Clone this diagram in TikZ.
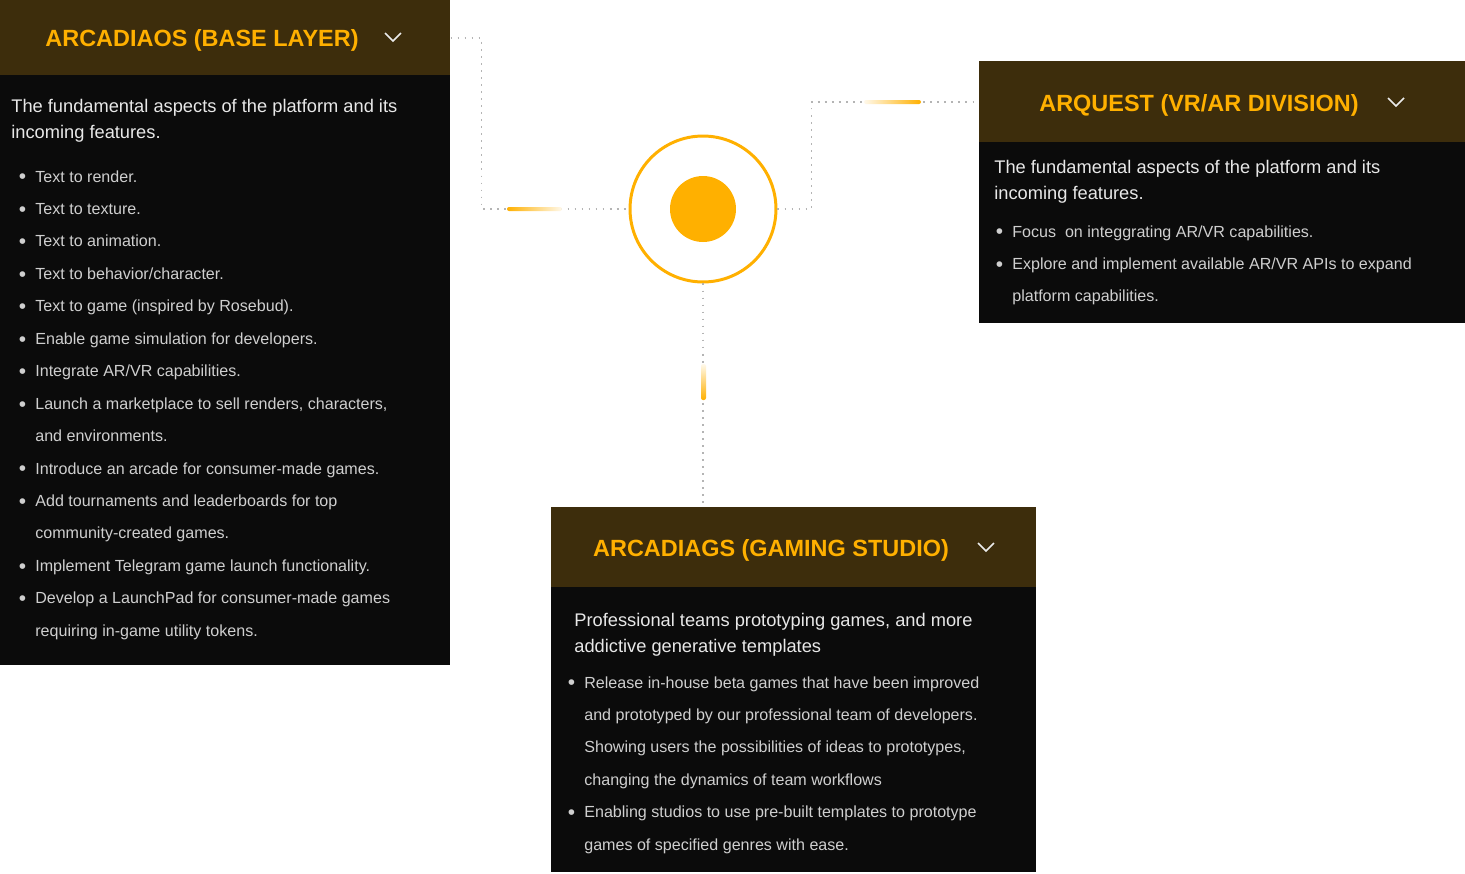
\documentclass[tikz,border=0pt]{standalone}
\usepackage{fontspec}
\setmainfont{Liberation Sans}
\usetikzlibrary{positioning}
\definecolor{hdrbrown}{HTML}{3D2D0C}
\definecolor{bodyblack}{HTML}{0B0B0B}
\definecolor{amber}{HTML}{FFB000}
\definecolor{dotgray}{HTML}{B4B4B4}
\definecolor{introtxt}{HTML}{E8E8E8}
\definecolor{itemtxt}{HTML}{CFCFCF}
\newcommand{\bul}{\llap{\raisebox{-1.1pt}{\scalebox{1.3}{\textbullet}}\hspace{5.2pt}}}

\begin{document}
\begin{tikzpicture}[x=0.02cm,y=-0.02cm,
  hdr/.style={fill=hdrbrown,inner sep=0pt,anchor=north west},
  panel/.style={fill=bodyblack,inner sep=0pt,anchor=north west},
  title/.style={text=amber,anchor=base,inner sep=0pt,font=\fontsize{13.35}{16}\selectfont\bfseries},
  intro/.style={text=introtxt,anchor=base west,inner sep=0pt,font=\fontsize{10.4}{13}\selectfont},
  item/.style={text=itemtxt,anchor=base west,inner sep=0pt,font=\fontsize{9.15}{11}\selectfont},
  chev/.style={draw=white!92!black,line width=.85pt},
  link/.style={draw=dotgray,line width=1pt,dash pattern=on 1pt off 3pt}]
\useasboundingbox[fill=white] (0,0) rectangle (1465,873);

% panels
\node[hdr,minimum width=9cm,minimum height=1.5cm] (oshead) at (0,0) {};
\node[panel,minimum width=9cm,minimum height=11.8cm] (osbody) at (0,75) {};
\node[hdr,minimum width=9.72cm,minimum height=1.62cm] (qhead) at (979,61) {};
\node[panel,minimum width=9.72cm,minimum height=3.62cm] (qbody) at (979,142) {};
\node[hdr,minimum width=9.7cm,minimum height=1.6cm] (gshead) at (551,507) {};
\node[panel,minimum width=9.7cm,minimum height=5.7cm] (gsbody) at (551,587) {};

% hub
\node[circle,draw=amber,line width=1.7pt,minimum size=2.92cm] (hub) at (703,209) {};
\node[circle,fill=amber,minimum size=1.32cm] (core) at (hub) {};

% connectors
\draw[link] (oshead.east) -- ++(31,0) |- (hub.west);
\draw[link] (hub.east) -- ++(34,0) |- (qhead.west);
\draw[link] (hub.south) -- (hub.south |- gshead.north);
\shade[left color=amber,right color=amber!8,rounded corners=.04cm] (507,207) rectangle (562,211);
\shade[left color=amber!8,right color=amber,rounded corners=.04cm] (864,100) rectangle (921,104);
\shade[top color=amber!8,bottom color=amber,rounded corners=.04cm] (701,364) rectangle (706,400);

% titles
\node[title] (ostitle) at (202,46) {ARCADIAOS (BASE LAYER)};
\draw[chev] (385,33) -- (393,41) -- (401,33);
\node[title] (qtitle) at (1199,111) {ARQUEST (VR/AR DIVISION)};
\draw[chev] (1388,98) -- (1396,106) -- (1404,98);
\node[title] (gstitle) at (771,556) {ARCADIAGS (GAMING STUDIO)};
\draw[chev] (978,543) -- (986,551) -- (994,543);

% ArcadiaOS text
\node[intro] (osintroa) at (11,112) {The fundamental aspects of the platform and its};
\node[intro] (osintrob) at (11,138) {incoming features.};
\foreach \n/\t in {0/{\bul Text to render.},1/{\bul Text to texture.},2/{\bul Text to animation.},
  3/{\bul Text to behavior/character.},4/{\bul Text to game (inspired by Rosebud).},
  5/{\bul Enable game simulation for developers.},6/{\bul Integrate AR/VR capabilities.},
  7/{\bul Launch a marketplace to sell renders, characters,},8/{and environments.},
  9/{\bul Introduce an arcade for consumer-made games.},
  10/{\bul Add tournaments and leaderboards for top},11/{community-created games.},
  12/{\bul Implement Telegram game launch functionality.},
  13/{\bul Develop a LaunchPad for consumer-made games},14/{requiring in-game utility tokens.}}
  \node[item] (osline\n) at (35,{182+32.45*\n}) {\t};

% ArQuest text
\node[intro] (qintroa) at (994,173) {The fundamental aspects of the platform and its};
\node[intro] (qintrob) at (994,199) {incoming features.};
\foreach \n/\t in {0/{\bul Focus\ \ on integgrating AR/VR capabilities.},
  1/{\bul Explore and implement available AR/VR APIs to expand},2/{platform capabilities.}}
  \node[item] (qline\n) at (1012,{237+32.45*\n}) {\t};

% ArcadiaGS text
\node[intro] (gsintroa) at (574,626) {Professional teams prototyping games, and more};
\node[intro] (gsintrob) at (574,652) {addictive generative templates};
\foreach \n/\t in {0/{\bul Release in-house beta games that have been improved},
  1/{and prototyped by our professional team of developers.},
  2/{Showing users the possibilities of ideas to prototypes,},
  3/{changing the dynamics of team workflows},
  4/{\bul Enabling studios to use pre-built templates to prototype},
  5/{games of specified genres with ease.}}
  \node[item] (gsline\n) at (584,{688+32.45*\n}) {\t};
\end{tikzpicture}
\end{document}
